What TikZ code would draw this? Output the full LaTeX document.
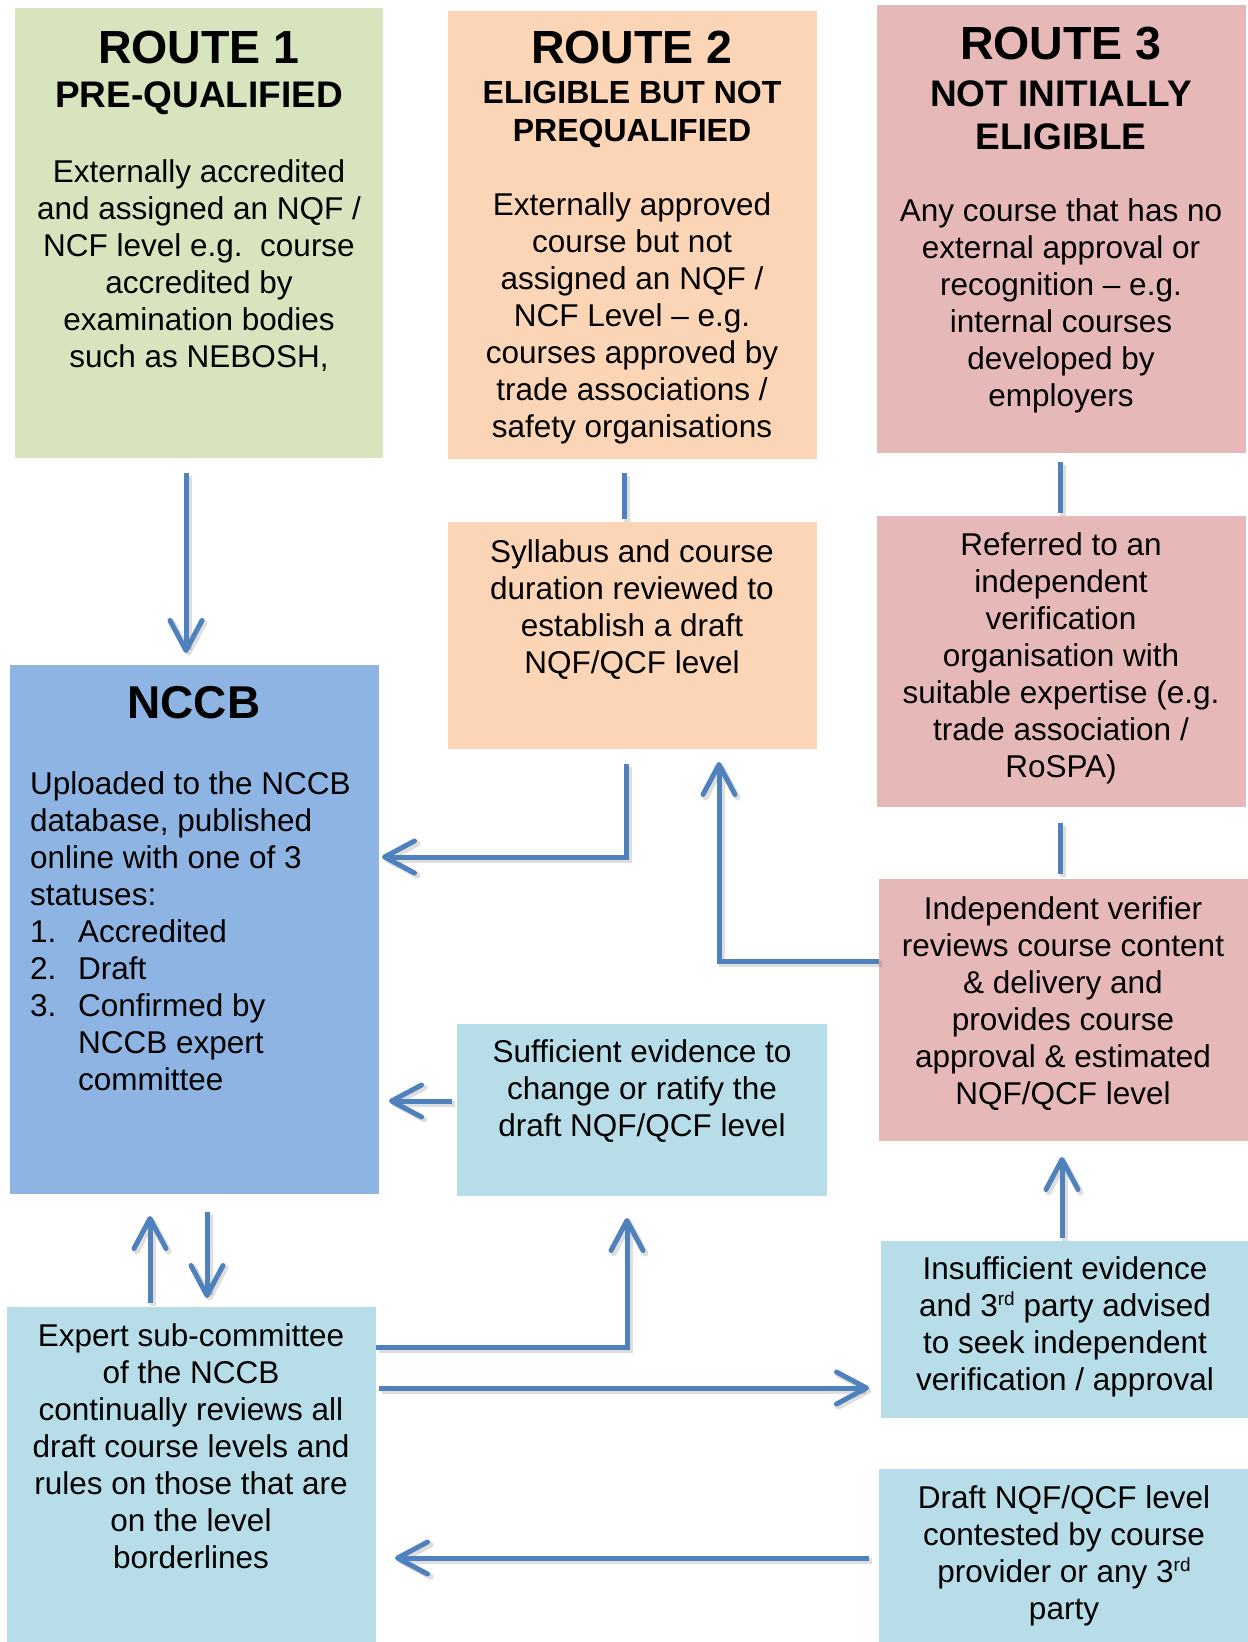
\documentclass[tikz,border=0pt]{standalone}
\usepackage{fontspec}
\setmainfont{Liberation Sans}
\usetikzlibrary{arrows.meta}
\definecolor{cgreen}{HTML}{D7E4BD}
\definecolor{corange}{HTML}{FBD5B5}
\definecolor{cpink}{HTML}{E6B9B8}
\definecolor{cblue}{HTML}{8EB4E3}
\definecolor{clblue}{HTML}{B7DEE8}
\definecolor{carrow}{HTML}{4F81BD}
\newcommand{\vst}[1]{\rule{0pt}{#1pt}}
\newcommand{\supx}[1]{\raisebox{11pt}{\fontsize{19}{19}\selectfont #1}}
\begin{document}
\begin{tikzpicture}[x=1pt,y=-1pt,
  box/.style={rectangle,inner sep=0pt,outer sep=0pt,draw=none,anchor=north west},
  body/.style={font=\fontsize{31.5}{37}\selectfont,align=center,inner sep=0pt,anchor=north},
  ttl/.style={font=\fontsize{46.5}{50}\selectfont\bfseries,inner sep=0pt,anchor=base},
  conn/.style={draw=carrow,line width=5pt,line cap=butt,line join=miter,
    preaction={draw=black,opacity=0.13,line width=6pt,transform canvas={xshift=2.5pt,yshift=-2.5pt}}},
  arr/.style={conn,-{Straight Barb[length=30pt,width=32pt,round]}}]
\useasboundingbox (0,0) rectangle (1248,1642);
\fill[white] (0,0) rectangle (1248,1642);

% boxes
\node[box,fill=cgreen,minimum width=368pt,minimum height=450pt] (r1) at (15,8) {};
\node[box,fill=corange,minimum width=369pt,minimum height=448pt] (r2) at (448,11) {};
\node[box,fill=cpink,minimum width=369pt,minimum height=448pt] (r3) at (877,5) {};
\node[box,fill=corange,minimum width=369pt,minimum height=227pt] (syl) at (448,522) {};
\node[box,fill=cpink,minimum width=369pt,minimum height=291pt] (ref) at (877,516) {};
\node[box,fill=cblue,minimum width=369pt,minimum height=529pt] (nccb) at (10,665) {};
\node[box,fill=cpink,minimum width=369pt,minimum height=262pt] (ver) at (879,879) {};
\node[box,fill=clblue,minimum width=370pt,minimum height=172pt] (suf) at (457,1024) {};
\node[box,fill=clblue,minimum width=367pt,minimum height=177pt] (ins) at (881,1241) {};
\node[box,fill=clblue,minimum width=369pt,minimum height=335pt] (exp) at (7,1307) {};
\node[box,fill=clblue,minimum width=369pt,minimum height=173pt] (dra) at (879,1469) {};

% titles
\node[ttl] (r1t) at (199,63) {ROUTE 1};
\node[font=\fontsize{37}{37}\selectfont\bfseries,inner sep=0pt,anchor=base] (r1s) at (199,107) {PRE-QUALIFIED};
\node[ttl] (r2t) at (632,63) {ROUTE 2};
\node[font=\fontsize{32}{38}\selectfont\bfseries,align=center,inner sep=0pt,anchor=north] (r2s) at (632,77) {\vst{26}ELIGIBLE BUT NOT\\PREQUALIFIED};
\node[ttl] (r3t) at (1061,59) {ROUTE 3};
\node[font=\fontsize{37}{43}\selectfont\bfseries,align=center,inner sep=0pt,anchor=north] (r3s) at (1061,78) {\vst{28}NOT INITIALLY\\ELIGIBLE};
\node[font=\fontsize{46}{50}\selectfont\bfseries,inner sep=0pt,anchor=base] (nct) at (194,718) {NCCB};

% body texts
\node[body] (r1b) at (199,157) {\vst{25}Externally accredited\\and assigned an NQF /\\NCF level e.g.\ \ course\\accredited by\\examination bodies\\such as NEBOSH,};
\node[body] (r2b) at (632,190) {\vst{25}Externally approved\\course but not\\assigned an NQF /\\NCF Level – e.g.\\courses approved by\\trade associations /\\safety organisations};
\node[body] (r3b) at (1061,196) {\vst{25}Any course that has no\\external approval or\\recognition – e.g.\\internal courses\\developed by\\employers};
\node[body] (sylb) at (632,537) {\vst{25}Syllabus and course\\duration reviewed to\\establish a draft\\NQF/QCF level};
\node[body] (refb) at (1061,530) {\vst{25}Referred to an\\independent\\verification\\organisation with\\suitable expertise (e.g.\\trade association /\\RoSPA)};
\node[body,align=left,anchor=north west] (nccbb) at (30,769) {\vst{25}Uploaded to the NCCB\\database, published\\online with one of 3\\statuses:\\\makebox[48pt][l]{1.}Accredited\\\makebox[48pt][l]{2.}Draft\\\makebox[48pt][l]{3.}Confirmed by\\\hspace*{48pt}NCCB expert\\\hspace*{48pt}committee};
\node[body] (verb) at (1063,894) {\vst{25}Independent verifier\\reviews course content\\\& delivery and\\provides course\\approval \& estimated\\NQF/QCF level};
\node[body] (sufb) at (642,1037) {\vst{25}Sufficient evidence to\\change or ratify the\\draft NQF/QCF level};
\node[body] (insb) at (1065,1254) {\vst{25}Insufficient evidence\\and 3\supx{rd} party advised\\to seek independent\\verification / approval};
\node[body] (expb) at (191,1321) {\vst{25}Expert sub-committee\\of the NCCB\\continually reviews all\\draft course levels and\\rules on those that are\\on the level\\borderlines};
\node[body] (drab) at (1064,1483) {\vst{25}Draft NQF/QCF level\\contested by course\\provider or any 3\supx{rd}\\party};

% connector end points
\coordinate (a1s) at (186,473);   \coordinate (a1e) at (186,653);
\coordinate (a2s) at (624,473);   \coordinate (a2e) at (624,519);
\coordinate (a3s) at (1060,462);  \coordinate (a3e) at (1060,513);
\coordinate (a4s) at (1060,823);  \coordinate (a4e) at (1060,874);
\coordinate (a5s) at (626,764);   \coordinate (a5e) at (382,857);
\coordinate (a6s) at (879,961);   \coordinate (a6e) at (719,762);
\coordinate (a7s) at (452,1101);  \coordinate (a7e) at (389,1101);
\coordinate (a8s) at (150,1303);  \coordinate (a8e) at (150,1216);
\coordinate (a9s) at (207,1212);  \coordinate (a9e) at (207,1298);
\coordinate (a10s) at (376,1347); \coordinate (a10e) at (627,1218);
\coordinate (a11s) at (379,1388); \coordinate (a11e) at (869,1388);
\coordinate (a12s) at (1062,1238);\coordinate (a12e) at (1062,1157);
\coordinate (a13s) at (869,1558); \coordinate (a13e) at (395,1558);

% connectors
\draw[arr] (a1s) -- (a1e);
\draw[conn] (a2s) -- (a2e);
\draw[conn] (a3s) -- (a3e);
\draw[conn] (a4s) -- (a4e);
\draw[arr] (a5s) |- (a5e);
\draw[arr] (a6s) -| (a6e);
\draw[arr] (a7s) -- (a7e);
\draw[arr] (a8s) -- (a8e);
\draw[arr] (a9s) -- (a9e);
\draw[arr] (a10s) -| (a10e);
\draw[arr] (a11s) -- (a11e);
\draw[arr] (a12s) -- (a12e);
\draw[arr] (a13s) -- (a13e);
\end{tikzpicture}
\end{document}
